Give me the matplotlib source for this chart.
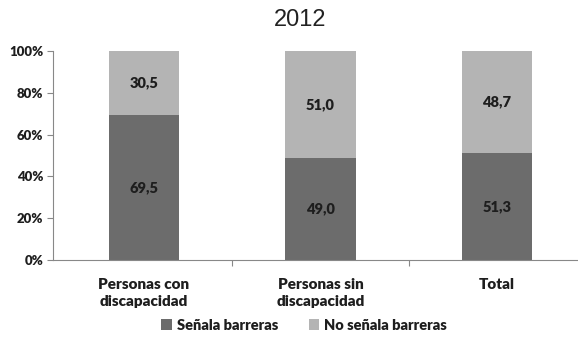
import matplotlib
matplotlib.use("Agg")
import matplotlib.pyplot as plt
from matplotlib.ticker import FixedLocator

categories = ["Personas con\ndiscapacidad", "Personas sin\ndiscapacidad", "Total"]
senala = [69.5, 49.0, 51.3]
no_senala = [30.5, 51.0, 48.7]
series_names = ["Señala barreras", "No señala barreras"]
yticks = [0, 20, 40, 60, 80, 100]

dark = "#6c6c6c"
light = "#b4b4b4"
font = "Lato"
wt = "heavy"

fig = plt.figure(figsize=(5.78, 3.4), dpi=100)
ax = fig.add_axes([53 / 578, 80 / 340, 525 / 578, 209 / 340])

x = list(range(len(categories)))
b1 = ax.bar(x, senala, width=0.4, color=dark, label=series_names[0])
b2 = ax.bar(x, no_senala, width=0.4, bottom=senala, color=light, label=series_names[1])

for xi, v in zip(x, senala):
    ax.text(xi, v / 2, f"{v:.1f}".replace(".", ","), ha="center", va="center",
            fontsize=10.5, fontweight=wt, family=font, color="#1e1e1e")
for xi, base, v in zip(x, senala, no_senala):
    ax.text(xi, base + v / 2, f"{v:.1f}".replace(".", ","), ha="center", va="center",
            fontsize=10.5, fontweight=wt, family=font, color="#1e1e1e")

ax.set_ylim(0, 100)
ax.set_xlim(-0.516, 2.459)
ax.set_yticks(yticks)
ax.set_yticklabels([f"{t}%" for t in yticks], fontsize=9.5, fontweight=wt, family=font,
                   color="#1e1e1e")
ax.set_xticks(x)
ax.set_xticklabels(categories, fontsize=11, fontweight=wt, family=font, color="#1e1e1e",
                   linespacing=1.4)
ax.tick_params(axis="x", length=0, pad=13)
ax.xaxis.set_minor_locator(FixedLocator([0.5, 1.5]))
ax.tick_params(axis="x", which="minor", length=4, color="#888888", width=0.8)
ax.tick_params(axis="y", length=4, color="#888888", width=0.8, pad=3)

for side in ["top", "right"]:
    ax.spines[side].set_visible(False)
for side in ["left", "bottom"]:
    ax.spines[side].set_color("#888888")
    ax.spines[side].set_linewidth(0.8)

fig.text(300 / 578, 1 - 20 / 340, "2012", ha="center", va="center",
         fontsize=17, family="Liberation Sans", color="#222222")

leg = fig.legend(handles=[b1, b2], loc="center", bbox_to_anchor=(304 / 578, 1 - 325 / 340),
                 ncol=2, frameon=False, handlelength=0.7, handleheight=0.7,
                 handletextpad=0.35, columnspacing=2.1,
                 prop={"family": font, "weight": wt, "size": 10.5})
for t in leg.get_texts():
    t.set_color("#1e1e1e")

fig.savefig("out.png", dpi=100)
